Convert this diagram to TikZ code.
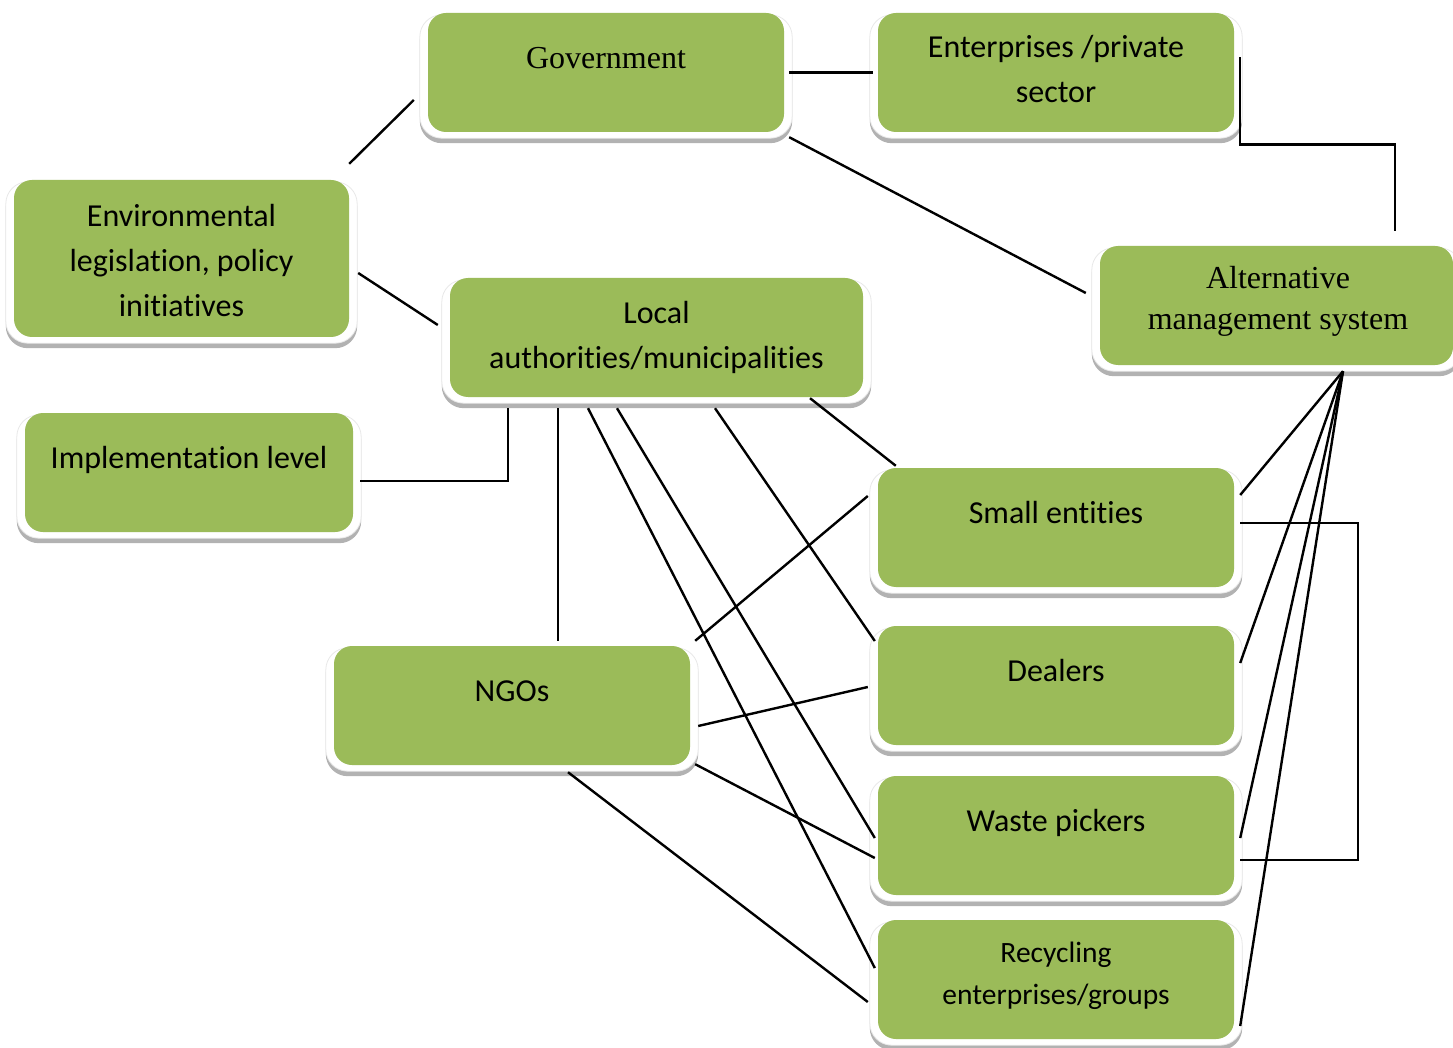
\documentclass[tikz,border=0pt]{standalone}
\usepackage{fontspec}
\setmainfont{Carlito}[Ligatures={NoCommon}]
\newfontfamily\serifface{Liberation Serif}
\usetikzlibrary{backgrounds}
\definecolor{leaf}{HTML}{9BBB59}
\begin{document}
\begin{tikzpicture}[x=1pt,y=-1pt,
  gbox/.style={fill=leaf, rounded corners=18pt, inner sep=0pt, minimum height=119pt},
  lbl/.style={inner sep=0pt, align=center, text height=21pt, text depth=0pt,
    font=\fontsize{32}{45}\selectfont},
  slbl/.style={lbl, font=\serifface\fontsize{32}{41}\selectfont},
  link/.style={draw=black, line width=2.4pt}]
\useasboundingbox (0,0) rectangle (1453,1048);

% green boxes
\node[gbox, minimum width=356pt] (gov) at (606,72.5) {};
\node[gbox, minimum width=356pt] (ent) at (1056,72.5) {};
\node[gbox, minimum width=335pt, minimum height=157pt] (env) at (181.5,258.5) {};
\node[gbox, minimum width=413pt] (loc) at (656.5,337.5) {};
\node[gbox, minimum width=353pt] (alt) at (1276.5,305.5) {};
\node[gbox, minimum width=328pt] (imp) at (189,472.5) {};
\node[gbox, minimum width=356pt] (sme) at (1056,527.5) {};
\node[gbox, minimum width=356pt] (ngo) at (512,705.5) {};
\node[gbox, minimum width=356pt] (dea) at (1056,685.5) {};
\node[gbox, minimum width=356pt] (wpk) at (1056,835.5) {};
\node[gbox, minimum width=356pt] (rec) at (1056,979.5) {};

% page and white bevel frames with a soft grey shadow
\begin{scope}[on background layer]
\fill[white] (0,0) rectangle (1453,1048);
\foreach \b in {gov,ent,env,loc,alt,imp,sme,ngo,dea,wpk,rec}{
  \fill[gray!60, rounded corners=22pt]
    ([shift={(-8,6)}]\b.north west) rectangle ([shift={(8,11)}]\b.south east);
  \filldraw[fill=white, draw=gray!18, line width=0.8pt, rounded corners=22pt]
    ([shift={(-8,2)}]\b.north west) rectangle ([shift={(8,6)}]\b.south east);
}
\end{scope}

% labels (each node is centred on the middle of its last line)
\node[slbl] (govt) at (606,58) {Government};
\node[lbl] (entt) at (1056,92) {Enterprises /private\\sector};
\node[lbl] (envt) at (181.5,306) {Environmental\\legislation, policy\\initiatives};
\node[lbl] (loct) at (656.5,358) {Local\\authorities/municipalities};
\node[slbl] (altt) at (1278,319) {Alternative\\management system};
\node[lbl] (impt) at (189,458) {Implementation level};
\node[lbl] (smet) at (1056,513) {Small entities};
\node[lbl] (ngot) at (512,691) {NGOs};
\node[lbl] (deat) at (1056,671) {Dealers};
\node[lbl] (wpkt) at (1056,821) {Waste pickers};
\node[lbl, font=\fontsize{29.5}{42}\selectfont, text height=19.5pt] (rect) at (1056,995) {Recycling\\enterprises/groups};

% connectors
\draw[link] ([xshift=5]gov.east) -- ([xshift=-5]ent.west);
\draw[link] ([shift={(6,-15)}]ent.east) -- ++(0,87) -| ([shift={(118.5,-15)}]alt.north);
\draw[link] ([shift={(5,5)}]gov.south east) -- ([shift={(-14,-12.5)}]alt.west);
\draw[link] ([shift={(0,-16)}]env.north east) -- ([shift={(-14,27.5)}]gov.west);
\draw[link] ([shift={(9,14.5)}]env.east) -- ([shift={(-12,-12.5)}]loc.west);
\draw[link] ([shift={(7,8.5)}]imp.east) -| ([shift={(-148.5,11)}]loc.south);
\draw[link] ([shift={(-98.5,11)}]loc.south) -- ([shift={(46,-5)}]ngo.north);
\draw[link] ([shift={(-68.5,11)}]loc.south) -- ([shift={(-3,-11.5)}]rec.west);
\draw[link] ([shift={(-39.5,11)}]loc.south) -- ([shift={(-3,2.5)}]wpk.west);
\draw[link] ([shift={(58.5,11)}]loc.south) -- ([shift={(-3,-44.5)}]dea.west);
\draw[link] ([shift={(153.5,1)}]loc.south) -- ([shift={(18,-2)}]sme.north west);
\draw[link] ([shift={(5,-5)}]ngo.north east) -- ([shift={(-10,-31.5)}]sme.west);
\draw[link] ([shift={(8,20.5)}]ngo.east) -- ([shift={(-10,1.5)}]dea.west);
\draw[link] ([shift={(5,-1)}]ngo.south east) -- ([shift={(-3,22.5)}]wpk.west);
\draw[link] ([shift={(56,7)}]ngo.south) -- ([shift={(-10,22.5)}]rec.west);
\draw[link] ([shift={(6,-4.5)}]sme.east) -- ++(118,0) |- ([shift={(6,24.5)}]wpk.east);

\coordinate (apex) at ([shift={(66.5,6)}]alt.south);
\draw[link] (apex) -- ([shift={(6,-32.5)}]sme.east);
\draw[link] (apex) -- ([shift={(6,-22.5)}]dea.east);
\draw[link] (apex) -- ([shift={(6,2.5)}]wpk.east);
\draw[link] (apex) -- ([shift={(6,46.5)}]rec.east);
\end{tikzpicture}
\end{document}
